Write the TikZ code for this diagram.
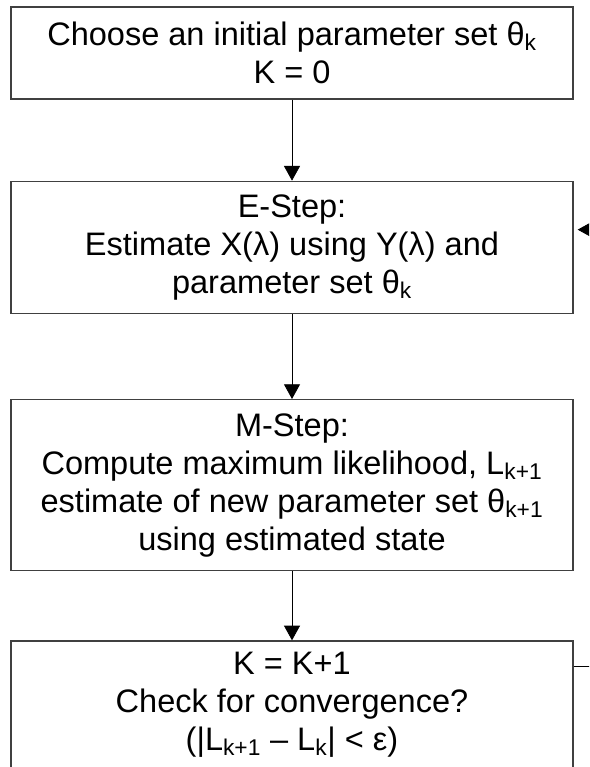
\documentclass[tikz,border=0pt]{standalone}
\usepackage{fontspec}
\setmainfont{Liberation Sans}
\usetikzlibrary{arrows.meta, positioning}

\newcommand{\lowidx}[1]{\textsubscript{#1}}

\begin{document}
\begin{tikzpicture}[
    x=0.75pt, y=0.75pt,
    box/.style={rectangle, draw=black!75, line width=1pt, minimum width=421.5pt,
                align=center, inner sep=0pt,
                font=\fontsize{24.4pt}{28.5pt}\selectfont},
    arr/.style={-{Triangle[width=12pt, length=11pt]}, line width=0.6pt},
  ]
  \clip (0,0) rectangle (589,767);

  % steps of the loop
  \node[box, minimum height=69pt] (init) at (292,714)
    {Choose an initial parameter set θ\lowidx{k}\\K = 0};
  \node[box, minimum height=99pt, below=60.75pt of init] (estep)
    {E-Step:\\Estimate X(λ) using Y(λ) and\\parameter set θ\lowidx{k}};
  \node[box, minimum height=128.25pt, below=63.75pt of estep] (mstep)
    {M-Step:\\Compute maximum likelihood, L\lowidx{k+1}\\estimate of new parameter set θ\lowidx{k+1}\\using estimated state};
  \node[box, minimum height=95.25pt, below=51.75pt of mstep] (check)
    {K = K+1\\Check for convergence?\\(|L\lowidx{k+1} – L\lowidx{k}| < ε)};

  \draw[arr] (init) -- (estep);
  \draw[arr] (estep) -- (mstep);
  \draw[arr] (mstep) -- (check);

  % back to the E-step
  \draw[arr, shorten >=3pt] ([yshift=-19.5pt]check.north east) -- ++(60,0)
    |- ([yshift=-36.75pt]estep.north east);
\end{tikzpicture}
\end{document}
